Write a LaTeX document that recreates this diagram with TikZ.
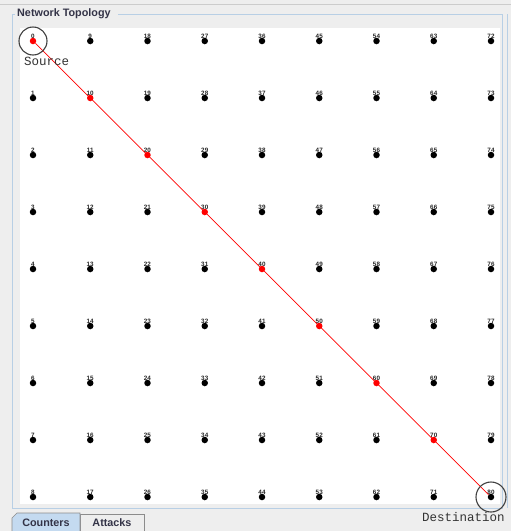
\documentclass[tikz,border=0pt]{standalone}
\usepackage{fontspec}
\setmainfont{Liberation Sans}
\newfontfamily\monofont{Liberation Mono}
\definecolor{panelgray}{HTML}{EEEEEE}
\definecolor{borderblue}{HTML}{B8CFE5}
\definecolor{titleblue}{HTML}{333347}
\definecolor{tabblue}{HTML}{C4DAF0}
\tikzset{dot/.style={circle,fill=black,inner sep=0,minimum size=6.5pt},
  hot/.style={dot,fill=red},
  num/.style={font=\fontsize{6.3}{6.3}\selectfont\bfseries,inner sep=0,text=black!85},
  mark circle/.style={draw=black!75,line width=1.1pt},
  tab/.style={draw=black!45,line width=.6pt}}
\begin{document}
\begin{tikzpicture}[x=1pt,y=-1pt]
\fill[panelgray](0,0)rectangle(511,531);\useasboundingbox(0,0)rectangle(511,531);
\draw[black!20](0,4)--(511,4);
\fill[white](20,28)rectangle(500,504);
\draw[borderblue,line width=.8pt](118,14)--(502,14)--(502,508)--(12,508)--(12,14)--(15,14) (507,14)--(507,508);
\node[anchor=west,inner sep=0,text=titleblue,font=\fontsize{10.8}{10.8}\selectfont\bfseries](title)at(17,14){Network Topology};
% grid of nodes
\foreach\c in{0,...,8}{\foreach\r in{0,...,8}{\pgfmathtruncatemacro\k{9*\c+\r}
  \ifnum\c=\r\ifnum\c<8\def\sty{hot}\else\def\sty{dot}\fi\else\def\sty{dot}\fi
  \node[\sty](n\k)at(33+57.25*\c,41+57*\r){};\node[num,above=2.2pt]at(n\k){\k};}}
% route
\draw[red,line width=.7pt](n0)\foreach\k in{10,20,...,80}{--(n\k)};
\draw[mark circle](n0)circle(14);\draw[mark circle](n80)circle(15);
\node[anchor=west,inner sep=0,font=\monofont\fontsize{12.5}{12.5}\selectfont,text=black!80](src)at(24,61){Source};
\node[anchor=west,inner sep=0,font=\monofont\fontsize{12.5}{12.5}\selectfont,text=black!80](dst)at(422,517){Destination};
% tabs
\draw[tab,fill=panelgray](80,531)--(80,514)--(144,514)--(144,531);
\draw[tab,fill=tabblue](12,531)--(12,518)--(17,513)--(80,513)--(80,531);
\node[font=\fontsize{10.8}{10.8}\selectfont\bfseries,text=titleblue](counters)at(46,523){Counters};
\node[font=\fontsize{10.8}{10.8}\selectfont\bfseries,text=titleblue](attacks)at(112,523){Attacks};
\end{tikzpicture}
\end{document}
